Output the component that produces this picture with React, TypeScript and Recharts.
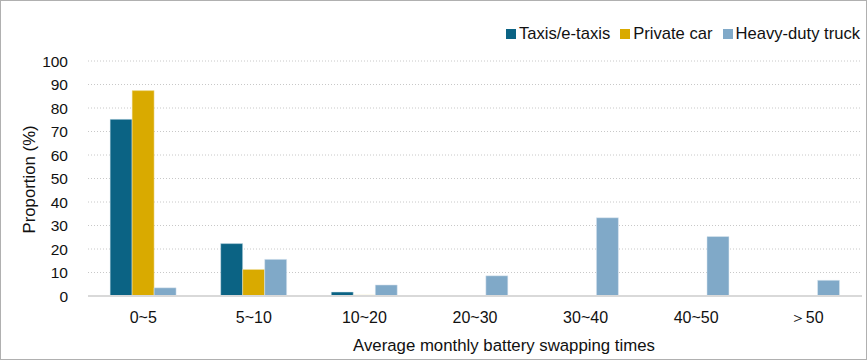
import { BarChart, Bar, XAxis, YAxis, CartesianGrid, Legend } from "recharts";

const categories = ["0~5", "5~10", "10~20", "20~30", "30~40", "40~50", "＞50"];
const taxis = [75.2, 22.3, 1.7, 0, 0, 0, 0];
const privateCar = [87.4, 11.3, 0.4, 0, 0, 0, 0];
const heavyTruck = [3.5, 15.6, 4.7, 8.6, 33.3, 25.3, 6.7];
const yTicks = [0, 10, 20, 30, 40, 50, 60, 70, 80, 90, 100];

const series = [
  { key: "taxis", name: "Taxis/e-taxis", color: "#0b6384", edge: "#dbe8f0" },
  { key: "privateCar", name: "Private car", color: "#d9aa00", edge: "#f3e6b8" },
  { key: "heavyTruck", name: "Heavy-duty truck", color: "#80a9c8", edge: "#e0ebf3" },
];

const data = categories.map((name, i) => ({
  name,
  taxis: taxis[i],
  privateCar: privateCar[i],
  heavyTruck: heavyTruck[i],
}));

const font = "'Liberation Sans', Arial, sans-serif";

if (typeof document !== "undefined") document.body.style.margin = "0";

function LegendRow() {
  return (
    <div style={{ display: "flex", justifyContent: "flex-end", alignItems: "center", height: 20, fontSize: 16.6, fontFamily: font, color: "#111" }}>
      {series.map((s) => (
        <span key={s.key} style={{ display: "flex", alignItems: "center", marginLeft: 10 }}>
          <span style={{ width: 10, height: 10, background: s.color, marginRight: 3, display: "inline-block" }} />
          {s.name}
        </span>
      ))}
    </div>
  );
}

export default function App() {
  return (
    <div style={{ width: 865, height: 358, border: "1px solid #b0b0b0", fontFamily: font, position: "relative" }}>
      <BarChart
        width={865}
        height={358}
        data={data}
        margin={{ top: 40, right: 4, left: 0, bottom: 4 }}
        barCategoryGap="20%"
        barGap={0}
      >
        <CartesianGrid vertical={false} stroke="#c8c8c8" strokeDasharray="1 2" />
        <XAxis
          dataKey="name"
          height={59}
          tickLine={false}
          axisLine={{ stroke: "#d9d9d9", strokeWidth: 2 }}
          tick={{ fill: "#111", fontSize: 16, fontFamily: font }}
          tickMargin={10}
          label={{ value: "Average monthly battery swapping times", position: "insideBottom", offset: 4, dx: 29, fill: "#111", fontSize: 16.8, fontFamily: font }}
        />
        <YAxis
          width={87}
          domain={[0, 100]}
          ticks={yTicks}
          interval={0}
          tickLine={false}
          axisLine={false}
          tick={{ fill: "#111", fontSize: 15.5, fontFamily: font }}
          tickMargin={14}
          label={{ value: "Proportion (%)", angle: -90, position: "insideLeft", offset: 28, dy: 55, fill: "#111", fontSize: 16.8, fontFamily: font }}
        />
        <Legend
          verticalAlign="top"
          align="right"
          wrapperStyle={{ top: 23, right: 6, height: 20 }}
          content={() => <LegendRow />}
        />
        {series.map((s) => (
          <Bar key={s.key} dataKey={s.key} name={s.name} fill={s.color} stroke={s.edge} strokeWidth={0.5} isAnimationActive={false} />
        ))}
      </BarChart>
    </div>
  );
}
